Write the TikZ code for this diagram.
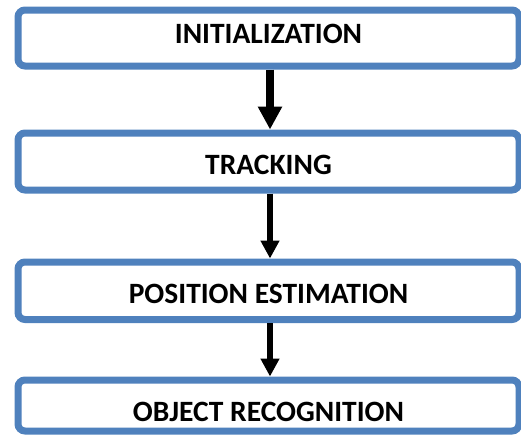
\documentclass[tikz,border=0pt]{standalone}
\usepackage{fontspec}
\setmainfont{Carlito}
\usetikzlibrary{arrows.meta,positioning}
\definecolor{Bc}{HTML}{4F81BD}
\tikzset{
  stage/.style={draw=Bc, line width=7pt, rounded corners=7pt, fill=white,
    minimum width=501pt, inner sep=0pt, font=\fontsize{29.5}{32}\selectfont\bfseries},
  flow/.style={-{Triangle[length=18pt,width=18pt]}, line width=6pt, black},
}
\begin{document}
\begin{tikzpicture}[x=1pt, y=-1pt]
  \useasboundingbox (0,0) rectangle (521,434);
  \clip (0,0) rectangle (521,434);
  \node[stage, minimum height=56pt, text depth=9pt] (init) at (268.5,38) {INITIALIZATION};
  \node[stage, minimum height=57pt, text height=26pt] (track) at (268.5,161.5) {TRACKING};
  \node[stage, minimum height=57.5pt, text height=25pt] (pos) at (268.5,290.75) {POSITION ESTIMATION};
  \node[stage, minimum height=51pt, text height=33pt] (recog) at (268.5,405.5) {OBJECT RECOGNITION};
  \draw[flow, line width=8pt, -{Triangle[length=23pt,width=23pt]}] ([xshift=1.5pt]init.south) -- ([xshift=1.5pt]track.north);
  \draw[flow] ([xshift=1.5pt]track.south) -- ([xshift=1.5pt]pos.north);
  \draw[flow] ([xshift=1.5pt]pos.south) -- ([xshift=1.5pt]recog.north);
\end{tikzpicture}
\end{document}
